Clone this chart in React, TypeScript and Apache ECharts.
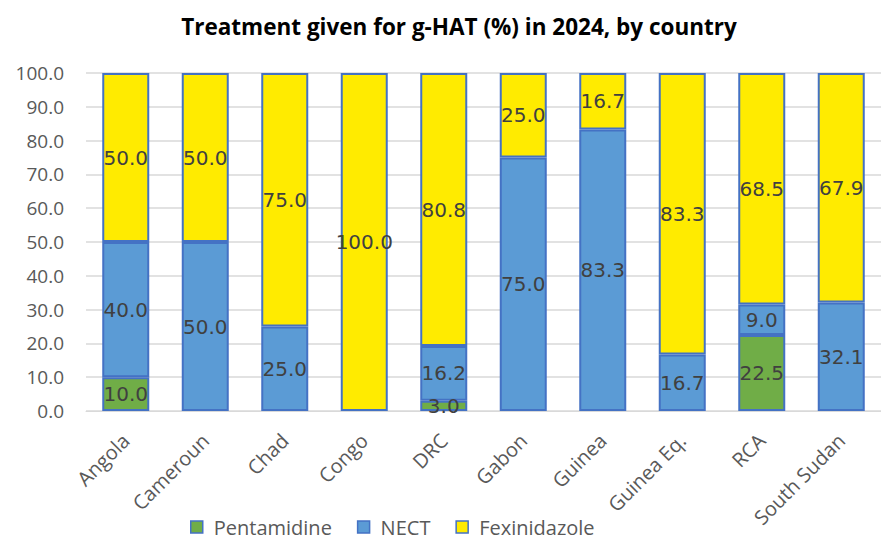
import React, { useEffect, useRef } from "react";
import * as echarts from "echarts";

const countries = [
  "Angola",
  "Cameroun",
  "Chad",
  "Congo",
  "DRC",
  "Gabon",
  "Guinea",
  "Guinea Eq.",
  "RCA",
  "South Sudan",
];

const pentamidine = [10.0, 0, 0, 0, 3.0, 0, 0, 0, 22.5, 0];
const nect = [40.0, 50.0, 25.0, 0, 16.2, 75.0, 83.3, 16.7, 9.0, 32.1];
const fexinidazole = [50.0, 50.0, 75.0, 100.0, 80.8, 25.0, 16.7, 83.3, 68.5, 67.9];

const yTicks = [0, 10, 20, 30, 40, 50, 60, 70, 80, 90, 100];

const BORDER = "#4472C4";

function makeSeries(name: string, data: number[], color: string) {
  return {
    name,
    type: "bar",
    stack: "total",
    barWidth: 47,
    // empty segments are left out so they draw no border sliver
    data: data.map((v) => (v ? v : "-")),
    itemStyle: { color, borderColor: BORDER, borderWidth: 2 },
    label: {
      show: true,
      position: "inside",
      color: "#404040",
      fontFamily: "DejaVu Sans",
      fontSize: 20,
      formatter: (p: any) => (p.value ? Number(p.value).toFixed(1) : ""),
    },
  };
}

export default function App() {
  const ref = useRef<HTMLDivElement>(null);

  useEffect(() => {
    if (!ref.current) return;
    const chart = echarts.init(ref.current, null, { renderer: "svg" });
    chart.setOption({
      animation: false,
      backgroundColor: "#ffffff",
      title: {
        text: "Treatment given for g-HAT (%) in 2024, by country",
        left: 454,
        top: 10,
        textAlign: "center",
        textStyle: {
          fontFamily: "Open Sans",
          fontWeight: "bold",
          fontSize: 22.5,
          color: "#000000",
        },
      },
      legend: {
        left: 190,
        top: 516,
        padding: 0,
        itemWidth: 12,
        itemHeight: 12,
        itemGap: 25,
        icon: "rect",
        textStyle: {
          fontFamily: "Open Sans",
          fontSize: 20,
          lineHeight: 22,
          color: "#595959",
          padding: [0, 0, 0, 6],
        },
        itemStyle: { borderColor: BORDER, borderWidth: 1.5 },
      },
      grid: {
        left: 86,
        top: 73,
        width: 809,
        height: 338,
        containLabel: false,
      },
      xAxis: {
        type: "category",
        data: countries,
        axisTick: { show: false },
        axisLine: { lineStyle: { color: "#d9d9d9", width: 1 } },
        axisLabel: {
          rotate: 45,
          interval: 0,
          margin: 26,
          padding: [30, 0, 0, 0],
          fontFamily: "Open Sans",
          fontSize: 20,
          color: "#595959",
        },
      },
      yAxis: {
        type: "value",
        min: yTicks[0],
        max: yTicks[yTicks.length - 1],
        interval: 10,
        axisLine: { show: false },
        axisTick: { show: false },
        splitLine: { lineStyle: { color: "#d9d9d9", width: 1.5 } },
        axisLabel: {
          margin: 22,
          fontFamily: "Open Sans",
          fontSize: 19,
          color: "#595959",
          formatter: (v: number) => v.toFixed(1),
        },
      },
      series: [
        makeSeries("Pentamidine", pentamidine, "#70AD47"),
        makeSeries("NECT", nect, "#5B9BD5"),
        makeSeries("Fexinidazole", fexinidazole, "#FFEB00"),
      ],
    });
    return () => chart.dispose();
  }, []);

  return (
    <div
      ref={ref}
      style={{ position: "fixed", left: 0, top: 0, width: 881, height: 543 }}
    />
  );
}
